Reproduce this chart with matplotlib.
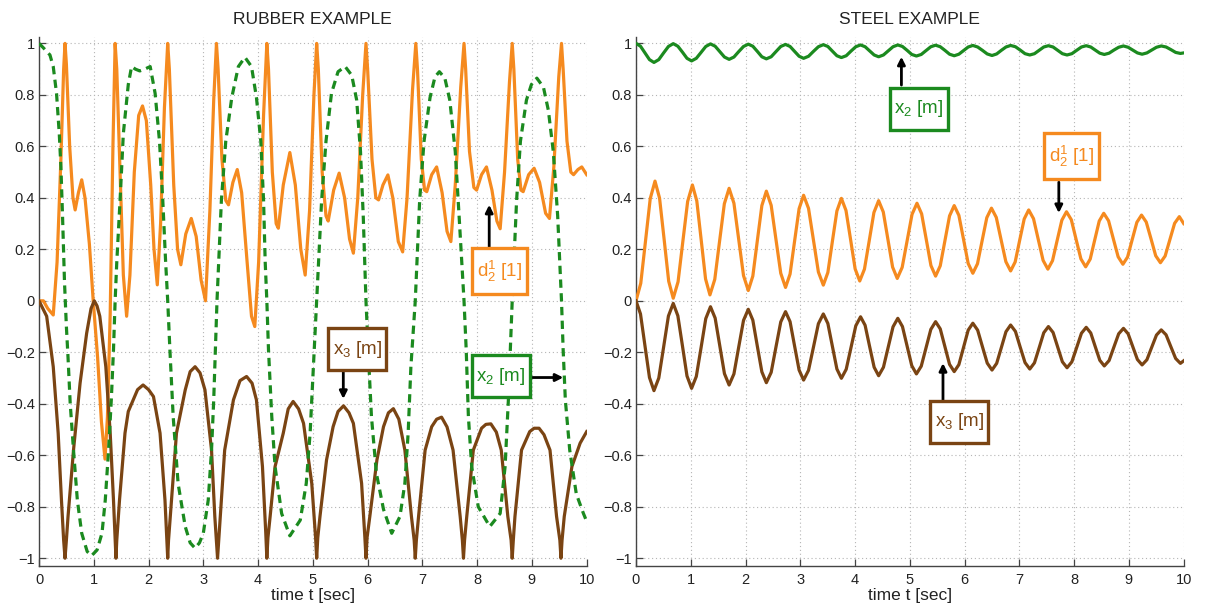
import matplotlib
matplotlib.use("Agg")
import matplotlib.pyplot as plt
from matplotlib.patches import Rectangle

plt.rcParams['font.family'] = ['Liberation Sans', 'DejaVu Sans']
plt.rcParams['mathtext.fontset'] = 'custom'
plt.rcParams['mathtext.rm'] = 'Liberation Sans'
plt.rcParams['mathtext.it'] = 'Liberation Sans'
plt.rcParams['mathtext.default'] = 'regular'

# ---------------- data ----------------
titles = ["RUBBER EXAMPLE", "STEEL EXAMPLE"]
xlabel = "time t [sec]"
xticks = [0, 1, 2, 3, 4, 5, 6, 7, 8, 9, 10]
xtick_labels = ["0", "1", "2", "3", "4", "5", "6", "7", "8", "9", "10"]
yticks = [-1, -0.8, -0.6, -0.4, -0.2, 0, 0.2, 0.4, 0.6, 0.8, 1]
ytick_labels = ["\u22121", "\u22120.8", "\u22120.6", "\u22120.4", "\u22120.2", "0",
                "0.2", "0.4", "0.6", "0.8", "1"]

# RUBBER: d_2^1 [1] (orange)
rub_d_t = [0.00, 0.08, 0.16, 0.26, 0.33, 0.40, 0.45, 0.475, 0.50, 0.56, 0.62, 0.66, 0.72, 0.78,
           0.84, 0.92, 0.99, 1.07, 1.14, 1.205, 1.25, 1.30, 1.35, 1.39, 1.42, 1.48, 1.54, 1.60,
           1.66, 1.74, 1.82, 1.89, 1.96, 2.04, 2.10, 2.16, 2.22, 2.29, 2.35, 2.38, 2.46, 2.53,
           2.59, 2.68, 2.78, 2.87, 2.96, 3.04, 3.12, 3.19, 3.24, 3.27, 3.34, 3.41, 3.46, 3.54,
           3.62, 3.70, 3.80, 3.88, 3.94, 4.01, 4.10, 4.16, 4.19, 4.26, 4.33, 4.37, 4.46, 4.58,
           4.68, 4.78, 4.86, 4.94, 5.02, 5.07, 5.10, 5.17, 5.24, 5.28, 5.38, 5.48, 5.58, 5.67,
           5.74, 5.82, 5.91, 5.97, 6.00, 6.08, 6.15, 6.20, 6.28, 6.37, 6.46, 6.56, 6.64, 6.72,
           6.82, 6.88, 6.91, 6.98, 7.04, 7.08, 7.17, 7.26, 7.36, 7.45, 7.52, 7.60, 7.70, 7.76,
           7.79, 7.86, 7.94, 7.99, 8.08, 8.17, 8.27, 8.36, 8.42, 8.50, 8.59, 8.64, 8.67, 8.74,
           8.80, 8.84, 8.94, 9.04, 9.14, 9.25, 9.32, 9.40, 9.49, 9.54, 9.57, 9.64, 9.71, 9.76,
           9.84, 9.91, 10.0]
rub_d_y = [0.00, 0.00, -0.03, -0.055, 0.15, 0.55, 0.90, 1.00, 0.92, 0.60, 0.40, 0.353, 0.42, 0.47,
           0.40, 0.22, 0.00, -0.22, -0.47, -0.615, -0.45, -0.05, 0.60, 1.00, 0.90, 0.50, 0.10, -0.06,
           0.10, 0.50, 0.72, 0.757, 0.70, 0.45, 0.20, 0.062, 0.30, 0.75, 1.00, 0.90, 0.45, 0.20,
           0.14, 0.26, 0.32, 0.25, 0.08, 0.00, 0.35, 0.78, 1.00, 0.90, 0.55, 0.39, 0.373, 0.46,
           0.51, 0.42, 0.15, -0.06, -0.10, 0.15, 0.72, 1.00, 0.90, 0.50, 0.30, 0.282, 0.45, 0.576,
           0.45, 0.20, 0.10, 0.35, 0.80, 1.00, 0.90, 0.50, 0.33, 0.31, 0.43, 0.496, 0.40, 0.24,
           0.185, 0.40, 0.80, 1.00, 0.90, 0.55, 0.40, 0.392, 0.45, 0.489, 0.40, 0.23, 0.19, 0.40,
           0.82, 1.00, 0.90, 0.55, 0.43, 0.424, 0.49, 0.52, 0.42, 0.27, 0.23, 0.45, 0.83, 1.00,
           0.90, 0.58, 0.44, 0.43, 0.49, 0.52, 0.43, 0.31, 0.28, 0.50, 0.85, 1.00, 0.90, 0.55,
           0.43, 0.424, 0.49, 0.515, 0.46, 0.34, 0.32, 0.52, 0.87, 1.00, 0.90, 0.62, 0.50, 0.49,
           0.51, 0.52, 0.49]

# RUBBER: x_2 [m] (green, dashed)
rub_x2_t = [0.00, 0.07, 0.20, 0.26, 0.32, 0.37, 0.40, 0.43, 0.466, 0.50, 0.53, 0.57, 0.63, 0.70,
            0.78, 0.88, 0.96, 1.06, 1.15, 1.21, 1.27, 1.32, 1.36, 1.39, 1.42, 1.48, 1.54, 1.63,
            1.69, 1.76, 1.84, 1.93, 2.03, 2.12, 2.20, 2.26, 2.31, 2.35, 2.39, 2.45, 2.54, 2.67,
            2.76, 2.85, 2.93, 3.00, 3.09, 3.15, 3.19, 3.22, 3.25, 3.28, 3.33, 3.41, 3.52, 3.64,
            3.76, 3.88, 3.97, 4.05, 4.10, 4.13, 4.16, 4.19, 4.25, 4.31, 4.43, 4.58, 4.77, 4.88,
            4.95, 5.01, 5.07, 5.10, 5.16, 5.24, 5.34, 5.46, 5.59, 5.71, 5.80, 5.87, 5.92, 5.97,
            6.01, 6.07, 6.16, 6.29, 6.44, 6.59, 6.68, 6.74, 6.79, 6.87, 6.90, 6.95, 7.03, 7.14,
            7.23, 7.31, 7.41, 7.50, 7.60, 7.67, 7.76, 7.80, 7.84, 7.90, 8.02, 8.23, 8.42, 8.51,
            8.57, 8.64, 8.67, 8.72, 8.79, 8.90, 8.99, 9.09, 9.21, 9.30, 9.39, 9.47, 9.54, 9.57,
            9.61, 9.69, 9.81, 9.94, 10.0]
rub_x2_y = [1.00, 0.985, 0.955, 0.91, 0.806, 0.65, 0.52, 0.327, 0.07, -0.10, -0.22, -0.40, -0.58,
            -0.774, -0.903, -0.974, -0.99, -0.968, -0.903, -0.774, -0.58, -0.385, -0.19, 0.00,
            0.15, 0.39, 0.65, 0.84, 0.91, 0.90, 0.893, 0.90, 0.91, 0.806, 0.62, 0.39, 0.16, 0.00,
            -0.19, -0.45, -0.71, -0.877, -0.94, -0.961, -0.94, -0.903, -0.774, -0.58, -0.385,
            -0.19, 0.00, 0.15, 0.39, 0.62, 0.79, 0.91, 0.946, 0.91, 0.79, 0.62, 0.39, 0.15, 0.00,
            -0.19, -0.45, -0.644, -0.826, -0.913, -0.852, -0.709, -0.514, -0.256, 0.00, 0.13, 0.39,
            0.62, 0.806, 0.89, 0.91, 0.876, 0.78, 0.58, 0.33, 0.00, -0.19, -0.45, -0.67, -0.81,
            -0.903, -0.838, -0.709, -0.514, -0.256, 0.00, 0.15, 0.39, 0.62, 0.79, 0.87, 0.89,
            0.865, 0.78, 0.58, 0.33, 0.00, -0.19, -0.45, -0.644, -0.80, -0.877, -0.826, -0.644,
            -0.385, 0.00, 0.15, 0.39, 0.62, 0.78, 0.84, 0.865, 0.83, 0.74, 0.58, 0.33, 0.00, -0.19,
            -0.385, -0.58, -0.75, -0.826, -0.857]

# RUBBER: x_3 [m] (brown)
rub_x3_t = [0.00, 0.14, 0.26, 0.35, 0.41, 0.45, 0.475, 0.50, 0.53, 0.63, 0.75, 0.87, 0.95, 1.01,
            1.06, 1.11, 1.22, 1.30, 1.36, 1.39, 1.405, 1.42, 1.47, 1.57, 1.63, 1.72, 1.80, 1.90,
            2.00, 2.09, 2.21, 2.30, 2.335, 2.35, 2.365, 2.42, 2.51, 2.67, 2.76, 2.85, 2.94, 3.03,
            3.15, 3.21, 3.245, 3.26, 3.275, 3.31, 3.39, 3.55, 3.67, 3.79, 3.89, 3.97, 4.08, 4.14,
            4.16, 4.18, 4.22, 4.31, 4.46, 4.55, 4.64, 4.74, 4.83, 4.98, 5.05, 5.07, 5.09, 5.13,
            5.25, 5.37, 5.46, 5.56, 5.66, 5.74, 5.89, 5.95, 5.97, 5.99, 6.04, 6.17, 6.29, 6.38,
            6.47, 6.57, 6.68, 6.80, 6.85, 6.87, 6.89, 6.93, 7.05, 7.17, 7.26, 7.35, 7.45, 7.56,
            7.69, 7.73, 7.75, 7.77, 7.81, 7.93, 8.08, 8.16, 8.25, 8.35, 8.44, 8.56, 8.62, 8.64,
            8.66, 8.69, 8.81, 8.96, 9.04, 9.13, 9.22, 9.33, 9.45, 9.51, 9.53, 9.55, 9.59, 9.73,
            9.88, 10.0]
rub_x3_y = [0.00, -0.06, -0.256, -0.514, -0.774, -0.93, -1.00, -0.93, -0.838, -0.58, -0.32, -0.126,
            -0.03, 0.00, -0.02, -0.06, -0.256, -0.514, -0.774, -0.93, -1.00, -0.93, -0.774, -0.514,
            -0.43, -0.385, -0.345, -0.327, -0.345, -0.372, -0.514, -0.774, -0.93, -1.00, -0.93,
            -0.774, -0.514, -0.346, -0.275, -0.256, -0.28, -0.346, -0.58, -0.838, -0.95, -1.00,
            -0.95, -0.838, -0.58, -0.385, -0.31, -0.294, -0.32, -0.385, -0.644, -0.90, -1.00, -0.92,
            -0.838, -0.644, -0.514, -0.42, -0.391, -0.42, -0.476, -0.709, -0.92, -1.00, -0.92,
            -0.838, -0.618, -0.489, -0.43, -0.408, -0.435, -0.476, -0.709, -0.92, -1.00, -0.92,
            -0.838, -0.618, -0.489, -0.435, -0.419, -0.46, -0.58, -0.838, -0.93, -1.00, -0.93,
            -0.838, -0.58, -0.489, -0.46, -0.452, -0.49, -0.58, -0.838, -0.93, -1.00, -0.93,
            -0.838, -0.58, -0.495, -0.48, -0.478, -0.51, -0.58, -0.838, -0.93, -1.00, -0.93,
            -0.838, -0.58, -0.508, -0.495, -0.495, -0.52, -0.58, -0.838, -0.93, -1.00, -0.93,
            -0.838, -0.644, -0.553, -0.508]

# STEEL: x_2 [m] (green)
stl_x2_t = [0.00, 0.082, 0.164, 0.246, 0.328, 0.416, 0.504, 0.592, 0.68, 0.764, 0.848, 0.931,
            1.015, 1.101, 1.188, 1.274, 1.36, 1.445, 1.53, 1.615, 1.70, 1.788, 1.875, 1.963,
            2.05, 2.133, 2.215, 2.298, 2.38, 2.468, 2.555, 2.643, 2.73, 2.813, 2.895, 2.978,
            3.06, 3.15, 3.24, 3.33, 3.42, 3.503, 3.585, 3.668, 3.75, 3.838, 3.925, 4.013,
            4.10, 4.183, 4.265, 4.348, 4.43, 4.518, 4.605, 4.693, 4.78, 4.865, 4.95, 5.035,
            5.12, 5.208, 5.295, 5.383, 5.47, 5.555, 5.64, 5.725, 5.81, 5.895, 5.98, 6.065,
            6.15, 6.238, 6.325, 6.413, 6.50, 6.585, 6.67, 6.755, 6.84, 6.928, 7.015, 7.103,
            7.19, 7.275, 7.36, 7.445, 7.53, 7.615, 7.70, 7.785, 7.87, 7.958, 8.045, 8.133,
            8.22, 8.303, 8.385, 8.468, 8.55, 8.638, 8.725, 8.813, 8.90, 8.985, 9.07, 9.155,
            9.24, 9.328, 9.415, 9.503, 9.59, 9.678, 9.765, 9.853, 9.94, 10.0]
stl_x2_y = [1.000, 0.989, 0.963, 0.937, 0.926, 0.937, 0.963, 0.988, 0.999, 0.989, 0.966, 0.942,
            0.932, 0.942, 0.965, 0.988, 0.998, 0.989, 0.968, 0.947, 0.938, 0.947, 0.968, 0.988,
            0.997, 0.989, 0.969, 0.948, 0.940, 0.948, 0.968, 0.988, 0.996, 0.988, 0.969, 0.950,
            0.942, 0.950, 0.969, 0.987, 0.995, 0.988, 0.970, 0.952, 0.945, 0.952, 0.970, 0.987,
            0.994, 0.987, 0.971, 0.955, 0.948, 0.955, 0.971, 0.987, 0.994, 0.988, 0.973, 0.957,
            0.951, 0.957, 0.972, 0.987, 0.993, 0.987, 0.973, 0.958, 0.952, 0.958, 0.972, 0.986,
            0.992, 0.986, 0.973, 0.959, 0.953, 0.959, 0.973, 0.986, 0.992, 0.987, 0.974, 0.960,
            0.955, 0.960, 0.973, 0.986, 0.991, 0.986, 0.973, 0.960, 0.955, 0.960, 0.973, 0.986,
            0.991, 0.986, 0.974, 0.962, 0.957, 0.962, 0.974, 0.985, 0.990, 0.985, 0.974, 0.963,
            0.958, 0.963, 0.974, 0.985, 0.990, 0.986, 0.976, 0.965, 0.961, 0.963]

# STEEL: d_2^1 [1] (orange)
stl_d_t = [0.00, 0.087, 0.174, 0.260, 0.347, 0.430, 0.514, 0.597, 0.680, 0.768, 0.855, 0.943,
           1.030, 1.110, 1.190, 1.270, 1.350, 1.438, 1.525, 1.613, 1.700, 1.788, 1.875, 1.963,
           2.050, 2.133, 2.215, 2.298, 2.380, 2.468, 2.555, 2.643, 2.730, 2.813, 2.895, 2.978,
           3.060, 3.150, 3.240, 3.330, 3.420, 3.503, 3.585, 3.668, 3.750, 3.834, 3.918, 4.001,
           4.085, 4.171, 4.258, 4.344, 4.430, 4.515, 4.600, 4.685, 4.770, 4.860, 4.950, 5.040,
           5.130, 5.215, 5.300, 5.385, 5.470, 5.555, 5.640, 5.725, 5.810, 5.895, 5.980, 6.065,
           6.150, 6.235, 6.320, 6.405, 6.490, 6.578, 6.665, 6.753, 6.840, 6.923, 7.005, 7.088,
           7.170, 7.258, 7.345, 7.433, 7.520, 7.605, 7.690, 7.775, 7.860, 7.948, 8.035, 8.123,
           8.210, 8.293, 8.375, 8.458, 8.540, 8.628, 8.715, 8.803, 8.890, 8.975, 9.060, 9.145,
           9.230, 9.316, 9.403, 9.489, 9.575, 9.661, 9.748, 9.834, 9.920, 10.0]
stl_d_y = [0.000, 0.068, 0.233, 0.397, 0.465, 0.399, 0.238, 0.076, 0.010, 0.074, 0.230, 0.386,
           0.450, 0.388, 0.237, 0.085, 0.023, 0.083, 0.230, 0.377, 0.437, 0.379, 0.239, 0.098,
           0.040, 0.096, 0.233, 0.370, 0.426, 0.371, 0.239, 0.107, 0.052, 0.104, 0.231, 0.358,
           0.410, 0.359, 0.236, 0.112, 0.061, 0.110, 0.230, 0.349, 0.398, 0.351, 0.238, 0.124,
           0.077, 0.123, 0.233, 0.343, 0.389, 0.345, 0.238, 0.131, 0.087, 0.130, 0.233, 0.336,
           0.379, 0.338, 0.238, 0.137, 0.096, 0.136, 0.233, 0.330, 0.370, 0.332, 0.239, 0.145,
           0.107, 0.144, 0.234, 0.323, 0.360, 0.324, 0.238, 0.152, 0.116, 0.151, 0.235, 0.318,
           0.353, 0.319, 0.238, 0.157, 0.123, 0.156, 0.235, 0.313, 0.346, 0.315, 0.239, 0.163,
           0.132, 0.162, 0.236, 0.310, 0.340, 0.311, 0.241, 0.171, 0.142, 0.170, 0.238, 0.305,
           0.333, 0.306, 0.241, 0.175, 0.148, 0.174, 0.238, 0.301, 0.327, 0.300]

# STEEL: x_3 [m] (brown)
stl_x3_t = [0.00, 0.082, 0.164, 0.246, 0.328, 0.416, 0.504, 0.592, 0.680, 0.764, 0.848, 0.931,
            1.015, 1.101, 1.188, 1.274, 1.360, 1.445, 1.530, 1.615, 1.700, 1.788, 1.875, 1.963,
            2.050, 2.133, 2.215, 2.298, 2.380, 2.468, 2.555, 2.643, 2.730, 2.813, 2.895, 2.978,
            3.060, 3.150, 3.240, 3.330, 3.420, 3.503, 3.585, 3.668, 3.750, 3.838, 3.925, 4.013,
            4.100, 4.183, 4.265, 4.348, 4.430, 4.518, 4.605, 4.693, 4.780, 4.865, 4.950, 5.035,
            5.120, 5.208, 5.295, 5.383, 5.470, 5.555, 5.640, 5.725, 5.810, 5.895, 5.980, 6.065,
            6.150, 6.238, 6.325, 6.413, 6.500, 6.585, 6.670, 6.755, 6.840, 6.928, 7.015, 7.103,
            7.190, 7.275, 7.360, 7.445, 7.530, 7.615, 7.700, 7.785, 7.870, 7.958, 8.045, 8.133,
            8.220, 8.303, 8.385, 8.468, 8.550, 8.638, 8.725, 8.813, 8.900, 8.985, 9.070, 9.155,
            9.240, 9.328, 9.415, 9.503, 9.590, 9.678, 9.765, 9.853, 9.940, 10.0]
stl_x3_y = [0.000, -0.051, -0.175, -0.298, -0.349, -0.300, -0.180, -0.059, -0.010, -0.058, -0.175,
            -0.292, -0.340, -0.294, -0.182, -0.069, -0.023, -0.067, -0.175, -0.283, -0.327, -0.284,
            -0.180, -0.076, -0.033, -0.075, -0.176, -0.276, -0.318, -0.278, -0.180, -0.082, -0.042,
            -0.081, -0.175, -0.269, -0.308, -0.270, -0.180, -0.089, -0.051, -0.088, -0.176, -0.265,
            -0.301, -0.266, -0.182, -0.097, -0.062, -0.095, -0.177, -0.258, -0.291, -0.258, -0.180,
            -0.101, -0.068, -0.100, -0.176, -0.252, -0.284, -0.254, -0.183, -0.111, -0.081, -0.109,
            -0.178, -0.247, -0.275, -0.248, -0.181, -0.114, -0.087, -0.114, -0.178, -0.242, -0.269,
            -0.243, -0.182, -0.120, -0.094, -0.119, -0.180, -0.240, -0.265, -0.241, -0.183, -0.124,
            -0.100, -0.123, -0.180, -0.237, -0.260, -0.237, -0.182, -0.126, -0.103, -0.125, -0.178,
            -0.231, -0.253, -0.232, -0.180, -0.128, -0.107, -0.128, -0.178, -0.228, -0.249, -0.229,
            -0.181, -0.133, -0.113, -0.132, -0.178, -0.224, -0.243, -0.233]

# annotation labels: (text, box centre, arrow tail, arrow tip)
rub_labels = [
    ("d$_2^1$ [1]", (8.41, 0.114), (8.22, 0.21), (8.22, 0.373)),
    ("x$_3$ [m]", (5.815, -0.188), (5.556, -0.27), (5.556, -0.381)),
    ("x$_2$ [m]", (8.435, -0.293), (8.98, -0.298), (9.573, -0.298)),
]
stl_labels = [
    ("x$_2$ [m]", (5.167, 0.746), (4.846, 0.838), (4.846, 0.948)),
    ("d$_2^1$ [1]", (7.955, 0.561), (7.72, 0.461), (7.72, 0.341)),
    ("x$_3$ [m]", (5.90, -0.470), (5.605, -0.385), (5.605, -0.242)),
]

# ---------------- style ----------------
ORANGE = '#f58a1f'
GREEN = '#1b8a1f'
BROWN = '#7a4413'
TXT = '#222222'
LW = 2.3

AX_W_PX = 547.7
AX_H_PX = 529.0
YLIM = (-1.029, 1.026)
PX_PER_X = AX_W_PX / 10.0
PX_PER_Y = AX_H_PX / (YLIM[1] - YLIM[0])

# label box sizes in pixels (width, height) per label kind
BOX_PX = {'d': (55, 46), 'x3': (58, 42), 'x2': (58, 42)}

fig = plt.figure(figsize=(12.05, 6.16), dpi=100)
ax1 = fig.add_axes([39 / 1205, 1 - 565.7 / 616, AX_W_PX / 1205, AX_H_PX / 616])
ax2 = fig.add_axes([636 / 1205, 1 - 565.7 / 616, AX_W_PX / 1205, AX_H_PX / 616])


def style_axes(ax, title):
    ax.set_xlim(0, 10)
    ax.set_ylim(*YLIM)
    ax.set_xticks(xticks)
    ax.set_xticklabels(xtick_labels)
    ax.set_yticks(yticks)
    ax.set_yticklabels(ytick_labels)
    ax.grid(True, linestyle=(0, (1, 2.5)), color='#b5b5b5', linewidth=0.8)
    ax.set_axisbelow(True)
    for s in ['top', 'right']:
        ax.spines[s].set_visible(False)
    for s in ['left', 'bottom']:
        ax.spines[s].set_color('#444444')
        ax.spines[s].set_linewidth(1.0)
    ax.tick_params(direction='in', length=5, width=0.9, color='#444444',
                   labelsize=10.5, labelcolor=TXT)
    ax.tick_params(axis='x', pad=5)
    ax.tick_params(axis='y', pad=3)
    ax.set_title(title, fontsize=12.5, color=TXT, pad=9)
    ax.set_xlabel(xlabel, fontsize=12.5, color=TXT, labelpad=1)


def add_label(ax, txt, centre, tail, tip, color, kind):
    ax.annotate('', xy=tip, xytext=tail,
                arrowprops=dict(arrowstyle='-|>', color='black', lw=2.0,
                                mutation_scale=11, shrinkA=0, shrinkB=0),
                zorder=6)
    wpx, hpx = BOX_PX[kind]
    w = wpx / PX_PER_X
    h = hpx / PX_PER_Y
    ax.add_patch(Rectangle((centre[0] - w / 2, centre[1] - h / 2), w, h,
                           facecolor='white', edgecolor=color, lw=2.4, zorder=7))
    ax.text(centre[0], centre[1], txt, color=color, fontsize=13.5,
            ha='center', va='center', zorder=8)


style_axes(ax1, titles[0])
style_axes(ax2, titles[1])

ax1.plot(rub_d_t, rub_d_y, color=ORANGE, lw=LW, zorder=3, solid_joinstyle='round')
ax1.plot(rub_x3_t, rub_x3_y, color=BROWN, lw=LW, zorder=3, solid_joinstyle='round')
ax1.plot(rub_x2_t, rub_x2_y, color=GREEN, lw=LW, zorder=4,
         linestyle=(0, (2.6, 1.7)))

ax2.plot(stl_x2_t, stl_x2_y, color=GREEN, lw=LW, zorder=3, solid_joinstyle='round')
ax2.plot(stl_d_t, stl_d_y, color=ORANGE, lw=LW, zorder=3, solid_joinstyle='round')
ax2.plot(stl_x3_t, stl_x3_y, color=BROWN, lw=LW, zorder=3, solid_joinstyle='round')

for ax, labels in ((ax1, rub_labels), (ax2, stl_labels)):
    for txt, centre, tail, tip in labels:
        if txt.startswith('d'):
            c, kind = ORANGE, 'd'
        elif txt.startswith('x$_3'):
            c, kind = BROWN, 'x3'
        else:
            c, kind = GREEN, 'x2'
        add_label(ax, txt, centre, tail, tip, c, kind)

fig.savefig('out.png', dpi=100)
